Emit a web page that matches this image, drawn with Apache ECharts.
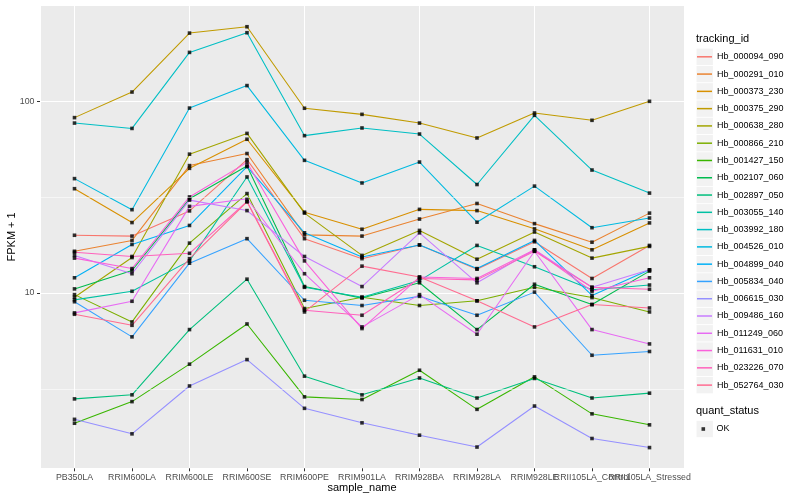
<!DOCTYPE html>
<html><head><meta charset="utf-8">
<script src="https://cdn.jsdelivr.net/npm/echarts@6/dist/echarts.min.js"></script>
<style>html,body{margin:0;padding:0;background:#fff}#c{width:800px;height:500px}</style>
</head><body><div id="c"></div>
<script>
const categories = ['PB350LA','RRIM600LA','RRIM600LE','RRIM600SE','RRIM600PE','RRIM901LA','RRIM928BA','RRIM928LA','RRIM928LE','RRII105LA_Control','RRII105LA_Stressed'];
const trackingIds = ['Hb_000094_090','Hb_000291_010','Hb_000373_230','Hb_000375_290','Hb_000638_280','Hb_000866_210','Hb_001427_150','Hb_002107_060','Hb_002897_050','Hb_003055_140','Hb_003992_180','Hb_004526_010','Hb_004899_040','Hb_005834_040','Hb_006615_030','Hb_009486_160','Hb_011249_060','Hb_011631_010','Hb_023226_070','Hb_052764_030'];
const yTickValues = [10, 100];

const Hb_000094_090 = [20.0, 19.8, 26.8, 49.6, 19.2, 15.1, 17.8, 13.3, 18.5, 11.9, 17.7];
const Hb_000291_010 = [16.5, 18.8, 46.2, 53.4, 20.1, 19.8, 24.3, 29.3, 23.0, 18.4, 26.1];
const Hb_000373_230 = [35.0, 23.3, 44.7, 63.4, 26.4, 21.5, 27.3, 26.9, 21.6, 16.8, 23.2];
const Hb_000375_290 = [82.2, 111.8, 227, 245, 92, 85.5, 77, 64.4, 86.9, 79.6, 100];
const Hb_000638_280 = [9.5, 15.3, 53.0, 68.0, 26.1, 15.7, 21.2, 15.0, 20.8, 15.2, 17.5];
const Hb_000866_210 = [9.8, 7.06, 18.2, 33.0, 8.29, 9.5, 8.6, 9.1, 10.7, 9.46, 7.96];
const Hb_001427_150 = [2.09, 2.71, 4.25, 6.89, 2.87, 2.78, 3.95, 2.47, 3.65, 2.34, 2.05];
const Hb_002107_060 = [10.5, 13.1, 31.0, 46.0, 10.8, 9.4, 11.3, 6.44, 11.1, 8.7, 13.0];
const Hb_002897_050 = [2.8, 2.94, 6.44, 11.8, 3.68, 2.94, 3.6, 2.83, 3.58, 2.83, 3.0];
const Hb_003055_140 = [9.2, 10.2, 14.7, 40.3, 10.7, 9.5, 11.6, 17.7, 13.7, 10.4, 11.0];
const Hb_003992_180 = [77, 72.2, 180, 228, 66.2, 72.6, 67.5, 36.8, 84.5, 43.8, 33.2];
const Hb_004526_010 = [39.5, 27.2, 92.2, 120.8, 49.2, 37.5, 48.2, 23.4, 36.1, 21.9, 24.6];
const Hb_004899_040 = [12.0, 17.9, 22.5, 45.6, 20.6, 15.4, 17.8, 13.4, 18.8, 9.7, 13.2];
const Hb_005834_040 = [9.0, 5.9, 14.3, 19.2, 9.16, 8.6, 9.6, 7.65, 10.1, 4.73, 4.95];
const Hb_006615_030 = [2.19, 1.84, 3.27, 4.49, 2.5, 2.1, 1.81, 1.57, 2.57, 1.74, 1.56];
const Hb_009486_160 = [15.7, 12.6, 30.5, 26.9, 15.5, 10.8, 20.6, 11.3, 16.8, 10.7, 13.2];
const Hb_011249_060 = [7.87, 9.05, 28.3, 31.0, 12.6, 6.65, 9.8, 6.09, 16.5, 6.44, 5.42];
const Hb_011631_010 = [15.2, 13.4, 31.7, 48.0, 14.7, 6.52, 12.1, 11.9, 16.8, 10.2, 12.0];
const Hb_023226_070 = [16.3, 15.5, 16.1, 30.0, 8.12, 7.65, 11.9, 11.7, 16.5, 10.7, 10.45];
const Hb_052764_030 = [7.74, 6.78, 15.1, 29.9, 7.96, 13.8, 12.1, 9.1, 6.65, 8.7, 8.35];

const seriesValues = [Hb_000094_090,Hb_000291_010,Hb_000373_230,Hb_000375_290,Hb_000638_280,Hb_000866_210,Hb_001427_150,Hb_002107_060,Hb_002897_050,Hb_003055_140,Hb_003992_180,Hb_004526_010,Hb_004899_040,Hb_005834_040,Hb_006615_030,Hb_009486_160,Hb_011249_060,Hb_011631_010,Hb_023226_070,Hb_052764_030];
const colors = ['#F8766D','#EA8331','#D89000','#C09B00','#A3A500','#7CAE00','#39B600','#00BB4E','#00BF7D','#00C1A3','#00BFC4','#00BAE0','#00B0F6','#35A2FF','#9590FF','#C77CFF','#E76BF3','#FA62DB','#FF62BC','#FF6C91'];

const FONT = '"Liberation Sans", Arial, sans-serif';
const idx = categories.map((c, i) => i);
const minorBreaks = [Math.pow(10, 0.5), Math.pow(10, 1.5), Math.pow(10, 2.5)];

// panel geometry (ggplot-like): x units -0.6 .. 10.6, y exponent 0.085 .. 2.5
const PL = 40, PR = 116, PT = 5.5, PB = 31.7, H = 500;
const X_MIN = -0.6, X_MAX = 10.6, E_MIN = 0.085, E_MAX = 2.5;
const unitX = (800 - PL - PR) / (X_MAX - X_MIN);
const unitE = (H - PT - PB) / (E_MAX - E_MIN);
const yOf = e => PT + (E_MAX - e) * unitE;

const rowH = 17.28, row0 = 56.8, keyX = 696.5, keyS = 16.4;
const graphics = [
  {type:'text', left:696, top:33, style:{text:'tracking_id', fontSize:11, fontFamily:FONT, fill:'#000'}},
  {type:'text', left:696, top:405.5, style:{text:'quant_status', fontSize:11, fontFamily:FONT, fill:'#000'}}
];
trackingIds.forEach((id, k) => {
  graphics.push({type:'rect', z:-1, shape:{x:keyX, y:row0 + k*rowH - keyS/2, width:keyS, height:keyS}, style:{fill:'#F2F2F2'}});
});
graphics.push({type:'rect', z:-1, shape:{x:keyX, y:429 - keyS/2, width:keyS, height:keyS}, style:{fill:'#F2F2F2'}});

const series = seriesValues.map((vals, k) => ({
  type:'line', name:trackingIds[k], color:colors[k], symbol:'none', z:2,
  lineStyle:{width:1.07, color:colors[k]},
  emphasis:{disabled:true},
  data: vals.map((v, i) => [idx[i], v])
}));
series.unshift({
  type:'line', name:'_minor', data:[], z:1, silent:true,
  markLine:{silent:true, symbol:['none','none'], label:{show:false}, animation:false,
    lineStyle:{color:'#FFFFFF', width:0.55, type:'solid'},
    emphasis:{disabled:true},
    data: minorBreaks.map(v => ({yAxis:v}))}
});
const okPoints = [];
seriesValues.forEach(vals => vals.forEach((v, i) => okPoints.push([idx[i], v])));
series.push({type:'scatter', name:'OK', symbol:'rect', symbolSize:3.6, itemStyle:{color:'#000'}, z:3, data:okPoints, emphasis:{disabled:true}});

const lbl = {color:'#4D4D4D', fontSize:8.8, fontFamily:FONT};
const tick = {show:true, length:3, lineStyle:{color:'#333333', width:1}};
const hidden = {show:false};

const chart = echarts.init(document.getElementById('c'), null, {renderer:'canvas'});
chart.setOption({
  animation:false,
  backgroundColor:'#FFFFFF',
  textStyle:{fontFamily:FONT},
  grid:[
    // main panel
    {left:PL, right:PR, top:PT, bottom:PB, show:true, backgroundColor:'#EBEBEB', borderWidth:0, outerBoundsMode:'none'},
    // helper for y ticks/labels: spans exactly 10..100
    {left:PL, right:PR, top:yOf(2), bottom:H - yOf(1), show:false, outerBoundsMode:'none'},
    // helper for x ticks/labels: spans exactly first..last category
    {left:PL + 0.6*unitX, right:PR + 0.6*unitX, top:PT, bottom:PB, show:false, outerBoundsMode:'none'}
  ],
  xAxis:[
    {type:'value', gridIndex:0, min:X_MIN, max:X_MAX,
     axisLine:hidden, axisTick:hidden, axisLabel:{show:false, customValues:idx},
     splitLine:{show:true, lineStyle:{color:'#FFFFFF', width:1.07}},
     name:'sample_name', nameLocation:'middle', nameGap:14, nameMoveOverlap:false,
     nameTextStyle:{fontSize:11, color:'#000', fontFamily:FONT}},
    {type:'value', gridIndex:1, show:false},
    {type:'category', gridIndex:2, data:categories, boundaryGap:false,
     axisLine:hidden, axisTick:Object.assign({interval:0}, tick),
     axisLabel:Object.assign({interval:0, margin:5}, lbl),
     splitLine:hidden}
  ],
  yAxis:[
    {type:'log', gridIndex:0, logBase:10, min:Math.pow(10, E_MIN), max:Math.pow(10, E_MAX),
     axisLine:hidden, axisTick:hidden, axisLabel:{show:false, customValues:yTickValues},
     splitLine:{show:true, lineStyle:{color:'#FFFFFF', width:1.07}},
     minorSplitLine:hidden,
     name:'FPKM + 1', nameLocation:'middle', nameGap:22.5, nameMoveOverlap:false,
     nameTextStyle:{fontSize:11, color:'#000', fontFamily:FONT}},
    {type:'log', gridIndex:1, logBase:10, min:yTickValues[0], max:yTickValues[1],
     axisLine:hidden, axisTick:tick,
     axisLabel:Object.assign({margin:5.5, formatter:v => String(Math.round(v))}, lbl),
     splitLine:hidden, minorSplitLine:hidden},
    {type:'value', gridIndex:2, show:false}
  ],
  legend:[
    {orient:'vertical', left:697, top:row0 - 6, padding:0, itemWidth:15, itemHeight:1.5, itemGap:rowH - 12,
     icon:'rect', selectedMode:false, data:trackingIds,
     textStyle:{fontSize:9, lineHeight:12, color:'#000', fontFamily:FONT}},
    {orient:'vertical', left:701.5, top:429 - 6, padding:0, itemWidth:3.6, itemHeight:3.6, selectedMode:false,
     icon:'rect', data:['OK'],
     textStyle:{fontSize:9, lineHeight:12, color:'#000', fontFamily:FONT, padding:[0,0,0,6.5]}}
  ],
  graphic: graphics,
  series: series
});
</script></body></html>
